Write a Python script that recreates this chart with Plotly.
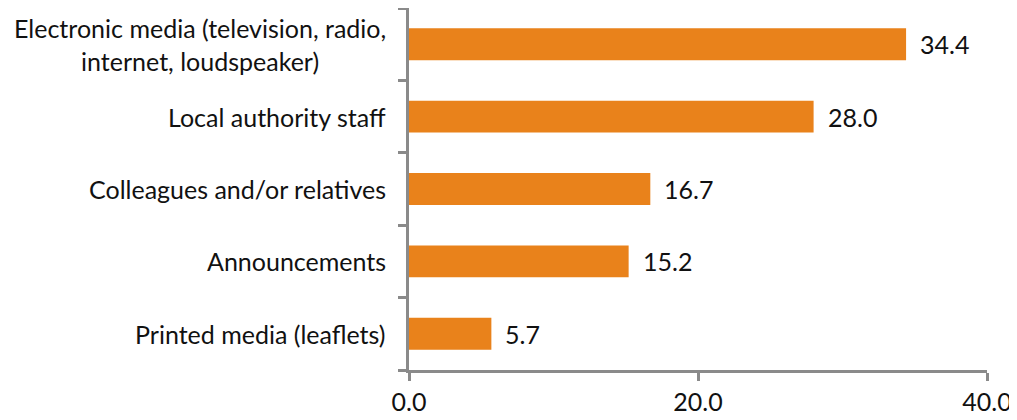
import plotly.graph_objects as go

# survey answers, bottom to top as drawn
categories = [
    "Printed media (leaflets)",
    "Announcements",
    "Colleagues and/or relatives",
    "Local authority staff",
    "Electronic media (television, radio,<br>internet, loudspeaker)",
]
values = [5.7, 15.2, 16.7, 28.0, 34.4]
x_ticks = [0, 20, 40]
x_tick_text = ["0.0", "20.0", "40.0"]

font = "Lato, 'Open Sans', sans-serif"
axis_grey = "#8a8a8a"
text_col = "#111111"

fig = go.Figure()
fig.add_trace(go.Bar(
    x=values,
    y=categories,
    orientation="h",
    width=0.44,
    marker=dict(color="#E9821B", line=dict(width=0)),
    hoverinfo="x+y",
))

annotations = []
# value labels to the right of each bar
for cat, v in zip(categories, values):
    annotations.append(dict(
        x=v, y=cat, xref="x", yref="y",
        text=f"{v:.1f}", showarrow=False,
        xanchor="left", xshift=12,
        font=dict(family=font, size=25, color=text_col),
    ))
# category labels, centred line by line like the original
for cat in categories:
    annotations.append(dict(
        x=0, y=cat, xref="paper", yref="y",
        text=cat, showarrow=False,
        xanchor="right", xshift=-21, align="center",
        font=dict(family=font, size=25, color=text_col),
    ))

# page body has an 8px margin, so the figure is sized to what stays visible
fig.update_layout(
    width=1009, height=412,
    margin=dict(l=401, r=30, t=0, b=50),
    plot_bgcolor="white", paper_bgcolor="white",
    showlegend=False,
    annotations=annotations,
    font=dict(family=font, size=25, color=text_col),
)
fig.update_xaxes(
    range=[0, 40],
    tickvals=x_ticks, ticktext=x_tick_text,
    ticks="outside", ticklen=8, tickwidth=2.5, tickcolor=axis_grey,
    showline=True, linecolor=axis_grey, linewidth=2.5,
    showgrid=False, zeroline=False,
    tickfont=dict(family=font, size=25, color=text_col),
)
fig.update_yaxes(
    type="category",
    categoryorder="array", categoryarray=categories,
    showticklabels=False,
    ticks="outside", ticklen=8, tickwidth=2.5, tickcolor=axis_grey,
    tickson="boundaries",
    showline=True, linecolor=axis_grey, linewidth=2.5,
    showgrid=False, zeroline=False,
)

fig.write_html("out.html")
